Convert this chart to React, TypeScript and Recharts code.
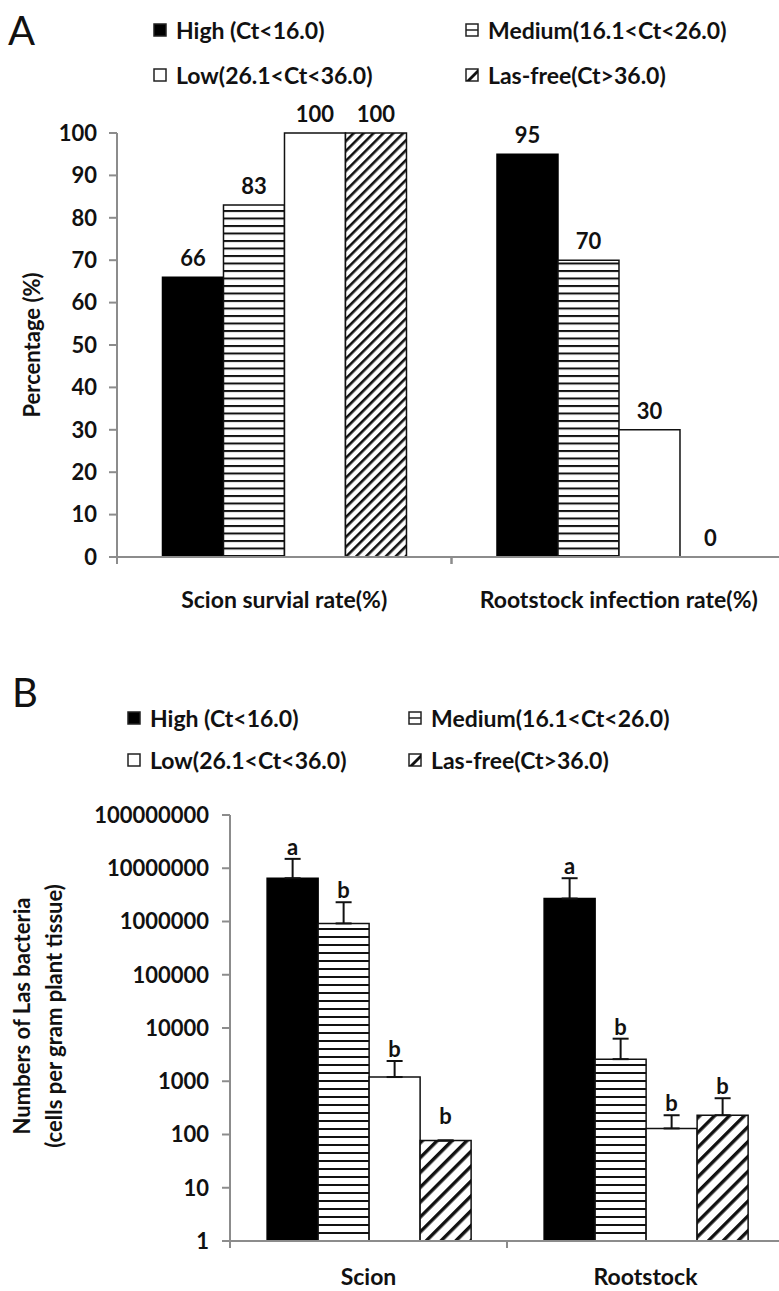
import React from 'react';
import { BarChart, Bar, XAxis, YAxis, LabelList, ErrorBar, Cell } from 'recharts';

const levels = ['High (Ct<16.0)', 'Medium(16.1<Ct<26.0)', 'Low(26.1<Ct<36.0)', 'Las-free(Ct>36.0)'];

// panel A: percentages
const categoriesA = ['Scion survial rate(%)', 'Rootstock infection rate(%)'];
const highA = [66, 95];
const mediumA = [83, 70];
const lowA = [100, 30];
const freeA = [100, 0];
const ticksA = [0, 10, 20, 30, 40, 50, 60, 70, 80, 90, 100];

// panel B: Las bacteria counts (log scale), upper error amounts and letters
const categoriesB = ['Scion', 'Rootstock'];
const highB = [6500000, 2700000];
const mediumB = [920000, 2600];
const lowB = [1200, 130];
const freeB = [77, 230];
const highErrB = [8500000, 3800000];
const mediumErrB = [1380000, 3700];
const lowErrB = [1200, 100];
const freeErrB = [0, 250];
const lettersHighB = ['a', 'a'];
const lettersMediumB = ['b', 'b'];
const lettersLowB = ['b', 'b'];
const lettersFreeB = ['b', 'b'];
const ticksB = [1, 10, 100, 1000, 10000, 100000, 1000000, 10000000, 100000000];

const dataA = categoriesA.map((name, i) => ({
  name,
  high: highA[i],
  medium: mediumA[i],
  low: lowA[i],
  free: freeA[i],
}));

const dataB = categoriesB.map((name, i) => ({
  name,
  high: highB[i],
  medium: mediumB[i],
  low: lowB[i],
  free: freeB[i],
  highErr: [0, highErrB[i]],
  mediumErr: [0, mediumErrB[i]],
  lowErr: [0, lowErrB[i]],
  freeErr: [0, freeErrB[i]],
}));

const FONT = 'Lato, "Open Sans", sans-serif';
const AXIS = '#8c8c8c';

const CategoryTick = (props: any) => {
  const { x, y, payload, band, dy } = props;
  return (
    <g>
      <line x1={x - band / 2} x2={x - band / 2} y1={y} y2={y + 7} stroke={AXIS} strokeWidth={2} />
      <line x1={x + band / 2} x2={x + band / 2} y1={y} y2={y + 7} stroke={AXIS} strokeWidth={2} />
      <text x={x} y={y + dy} textAnchor="middle" fontFamily={FONT} fontWeight={700} fontSize={23} fill="#111">
        {payload.value}
      </text>
    </g>
  );
};

// value label above a bar (also drawn for a zero-height bar)
const valueLabel = (values: number[]) => (props: any) => {
  const vb = props.viewBox || props;
  const i = props.index;
  return (
    <text x={vb.x + vb.width / 2} y={vb.y - 11} textAnchor="middle" fontFamily={FONT} fontWeight={700} fontSize={22} fill="#111">
      {values[i]}
    </text>
  );
};

// letter above the error bar cap, cap height worked out from the bar's own log-scale height
const makeLetter = (letters: string[], values: number[], errs: number[]) => (props: any) => {
  const vb = props.viewBox || props;
  const i = props.index;
  const v = values[i];
  const pxPerDecade = vb.height / Math.log10(v);
  const capY = vb.y - pxPerDecade * (Math.log10(v + errs[i]) - Math.log10(v));
  const baseY = errs[i] > 0 ? capY - 4 : vb.y - 17;
  return (
    <text x={vb.x + vb.width / 2} y={baseY} textAnchor="middle" fontFamily={FONT} fontWeight={700} fontSize={22} fill="#111">
      {letters[i]}
    </text>
  );
};

const Swatch = ({ kind }: { kind: number }) => (
  <svg width={14} height={14} style={{ display: 'block' }}>
    <rect x={1} y={1} width={12} height={12} fill={kind === 0 ? '#000' : '#fff'} stroke="#222" strokeWidth={1.5} />
    {kind === 1 && <line x1={1} x2={13} y1={7} y2={7} stroke="#222" strokeWidth={1.5} />}
    {kind === 3 && <polygon points="1,13 13,1 13,5 5,13" fill="#111" />}
  </svg>
);

const LegendBlock = ({ left, top, col2, rowGap }: any) => (
  <>
    {levels.map((lv, i) => (
      <div
        key={lv}
        style={{
          position: 'absolute',
          left: i % 2 === 0 ? left : col2,
          top: top + Math.floor(i / 2) * rowGap,
          display: 'flex',
          alignItems: 'center',
          gap: 9,
          fontFamily: FONT,
          fontWeight: 700,
          fontSize: 23,
          color: '#111',
          lineHeight: '26px',
          whiteSpace: 'nowrap',
        }}
      >
        <Swatch kind={i} />
        <span>{lv}</span>
      </div>
    ))}
  </>
);

const App = () => {
  const bandA = (800 - 14 - 117) / 2;
  const bandB = (800 - 16 - 230) / 2;
  return (
    <div style={{ position: 'absolute', left: 0, top: 0, width: 779, height: 1291, overflow: 'hidden', background: '#fff' }}>
      <div style={{ position: 'absolute', left: 8, top: 6, fontFamily: FONT, fontSize: 40, color: '#111' }}>A</div>
      <LegendBlock left={153} top={17} col2={465} rowGap={45} />

      <div style={{ position: 'absolute', left: 0, top: 0 }}>
        <BarChart width={800} height={640} data={dataA} margin={{ top: 133, right: 14, bottom: 0, left: 0 }} barCategoryGap="13.6%" barGap={0}>
          <defs>
            <pattern id="hA" patternUnits="userSpaceOnUse" width={8} height={7.5}>
              <rect width={8} height={7.5} fill="#fff" />
              <rect width={8} height={2} fill="#111" />
            </pattern>
            <pattern id="dA" patternUnits="userSpaceOnUse" width={7} height={7} patternTransform="rotate(45)">
              <rect width={7} height={7} fill="#fff" />
              <rect width={2.6} height={7} fill="#111" />
            </pattern>
          </defs>
          <XAxis
            dataKey="name"
            height={83}
            tickSize={0}
            tickMargin={0}
            tickLine={false}
            axisLine={{ stroke: AXIS, strokeWidth: 2 }}
            tick={<CategoryTick band={bandA} dy={51} />}
          />
          <YAxis
            type="number"
            width={117}
            domain={[0, 100]}
            ticks={ticksA}
            interval={0}
            tickSize={8}
            tickMargin={12}
            axisLine={{ stroke: AXIS, strokeWidth: 2 }}
            tickLine={{ stroke: AXIS, strokeWidth: 2 }}
            tick={{ fontFamily: FONT, fontWeight: 700, fontSize: 22, fill: '#111' }}
            label={(p: any) => {
              const vb = p.viewBox;
              const cy = vb.y + vb.height / 2;
              return (
                <text x={31} y={cy} transform={`rotate(-90 31 ${cy})`} textAnchor="middle" dominantBaseline="central" fontFamily={FONT} fontWeight={700} fontSize={22} fill="#111">
                  Percentage (%)
                </text>
              );
            }}
          />
          <Bar dataKey="high" fill="#000" stroke="#000" strokeWidth={1.5} isAnimationActive={false}>
            <LabelList dataKey="high" content={valueLabel(highA)} />
          </Bar>
          <Bar dataKey="medium" fill="url(#hA)" stroke="#111" strokeWidth={1.5} isAnimationActive={false}>
            <LabelList dataKey="medium" content={valueLabel(mediumA)} />
          </Bar>
          <Bar dataKey="low" fill="#fff" stroke="#111" strokeWidth={1.5} isAnimationActive={false}>
            <LabelList dataKey="low" content={valueLabel(lowA)} />
          </Bar>
          <Bar dataKey="free" fill="url(#dA)" strokeWidth={1.5} minPointSize={0.01} isAnimationActive={false}>
            {freeA.map((v, i) => (
              <Cell key={i} stroke={v > 0 ? '#111' : 'none'} />
            ))}
            <LabelList dataKey="free" content={valueLabel(freeA)} />
          </Bar>
        </BarChart>
      </div>

      <div style={{ position: 'absolute', left: 12, top: 668, fontFamily: FONT, fontSize: 40, color: '#111' }}>B</div>
      <LegendBlock left={127} top={705} col2={408} rowGap={42} />

      <div style={{ position: 'absolute', left: 0, top: 640 }}>
        <BarChart width={800} height={651} data={dataB} margin={{ top: 175, right: 16, bottom: 0, left: 0 }} barCategoryGap="13.4%" barGap={0}>
          <defs>
            <pattern id="hB" patternUnits="userSpaceOnUse" width={8} height={8}>
              <rect width={8} height={8} fill="#fff" />
              <rect width={8} height={2} fill="#111" />
            </pattern>
            <pattern id="dB" patternUnits="userSpaceOnUse" width={10.5} height={10.5} patternTransform="rotate(45)">
              <rect width={10.5} height={10.5} fill="#fff" />
              <rect width={3.4} height={10.5} fill="#111" />
            </pattern>
          </defs>
          <XAxis
            dataKey="name"
            height={50}
            tickSize={0}
            tickMargin={0}
            tickLine={false}
            axisLine={{ stroke: AXIS, strokeWidth: 2 }}
            tick={<CategoryTick band={bandB} dy={44} />}
          />
          <YAxis
            type="number"
            scale="log"
            width={230}
            domain={[1, 100000000]}
            ticks={ticksB}
            interval={0}
            allowDataOverflow
            tickSize={8}
            tickMargin={13}
            axisLine={{ stroke: AXIS, strokeWidth: 2 }}
            tickLine={{ stroke: AXIS, strokeWidth: 2 }}
            tickFormatter={(v: number) => String(v)}
            tick={{ fontFamily: FONT, fontWeight: 700, fontSize: 22, fill: '#111' }}
            label={(p: any) => {
              const vb = p.viewBox;
              const cy = vb.y + vb.height / 2 - 12;
              return (
                <g fontFamily={FONT} fontWeight={700} fontSize={22} fill="#111">
                  <text x={21} y={cy} transform={`rotate(-90 21 ${cy})`} textAnchor="middle" dominantBaseline="central">
                    Numbers of Las bacteria
                  </text>
                  <text x={53} y={cy} transform={`rotate(-90 53 ${cy})`} textAnchor="middle" dominantBaseline="central">
                    (cells per gram plant tissue)
                  </text>
                </g>
              );
            }}
          />
          <Bar dataKey="high" fill="#000" stroke="#000" strokeWidth={1.5} isAnimationActive={false}>
            <ErrorBar dataKey="highErr" direction="y" width={8} stroke="#111" strokeWidth={2} isAnimationActive={false} />
            <LabelList dataKey="high" content={makeLetter(lettersHighB, highB, highErrB)} />
          </Bar>
          <Bar dataKey="medium" fill="url(#hB)" stroke="#111" strokeWidth={1.5} isAnimationActive={false}>
            <ErrorBar dataKey="mediumErr" direction="y" width={8} stroke="#111" strokeWidth={2} isAnimationActive={false} />
            <LabelList dataKey="medium" content={makeLetter(lettersMediumB, mediumB, mediumErrB)} />
          </Bar>
          <Bar dataKey="low" fill="#fff" stroke="#111" strokeWidth={1.5} isAnimationActive={false}>
            <ErrorBar dataKey="lowErr" direction="y" width={8} stroke="#111" strokeWidth={2} isAnimationActive={false} />
            <LabelList dataKey="low" content={makeLetter(lettersLowB, lowB, lowErrB)} />
          </Bar>
          <Bar dataKey="free" fill="url(#dB)" stroke="#111" strokeWidth={1.5} isAnimationActive={false}>
            <ErrorBar dataKey="freeErr" direction="y" width={8} stroke="#111" strokeWidth={2} isAnimationActive={false} />
            <LabelList dataKey="free" content={makeLetter(lettersFreeB, freeB, freeErrB)} />
          </Bar>
        </BarChart>
      </div>
    </div>
  );
};

export default App;
